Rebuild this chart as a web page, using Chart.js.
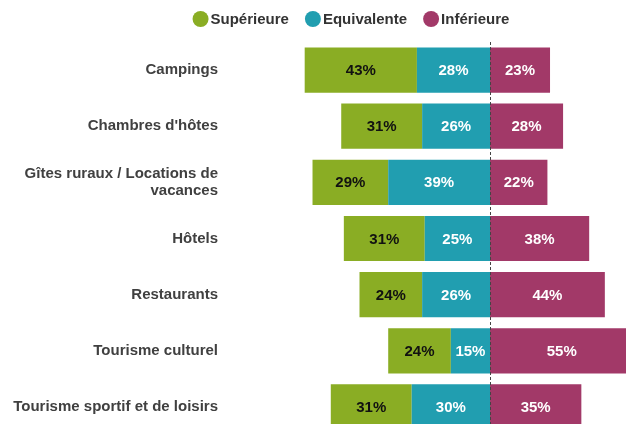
<!DOCTYPE html>
<html>
<head>
<meta charset="utf-8">
<script src="https://cdn.jsdelivr.net/npm/chart.js@4/dist/chart.umd.min.js"></script>
<style>
  html, body { margin: 0; padding: 0; background: #fff; }
  #wrap { width: 626px; height: 424px; overflow: hidden; position: relative; }
  canvas { display: block; }
</style>
</head>
<body>
<div id="wrap"><canvas id="c" width="751" height="435"></canvas></div>
<script>
const categories = [
  "Campings",
  "Chambres d'hôtes",
  ["Gîtes ruraux / Locations de", "vacances"],
  "Hôtels",
  "Restaurants",
  "Tourisme culturel",
  "Tourisme sportif et de loisirs"
];
const superieure  = [43, 31, 29, 31, 24, 24, 31];
const equivalente = [28, 26, 39, 25, 26, 15, 30];
const inferieure  = [23, 28, 22, 38, 44, 55, 35];

const seriesNames = ["Supérieure", "Equivalente", "Inférieure"];
const seriesColors = ["#8aad24", "#219eb0", "#a23968"];
const labelColors = ["#111111", "#ffffff", "#ffffff"];

const neg = a => a.map(v => -v);

const valueLabels = {
  id: 'valueLabels',
  afterDatasetsDraw(chart) {
    const ctx = chart.ctx;
    const xs = chart.scales.x;
    const area = chart.chartArea;
    const x0 = Math.round(xs.getPixelForValue(0)) + 0.5;
    ctx.save();
    ctx.strokeStyle = '#444';
    ctx.lineWidth = 1;
    ctx.setLineDash([3, 2]);
    ctx.beginPath();
    ctx.moveTo(x0, area.top);
    ctx.lineTo(x0, area.bottom);
    ctx.stroke();
    ctx.restore();

    ctx.save();
    ctx.font = "bold 15px 'Liberation Sans', Arial, sans-serif";
    ctx.textAlign = 'center';
    ctx.textBaseline = 'middle';
    chart.data.datasets.forEach((ds, i) => {
      const meta = chart.getDatasetMeta(i);
      meta.data.forEach((el, j) => {
        const v = Math.abs(ds.data[j]);
        const p = el.getProps(['x', 'y', 'base'], true);
        ctx.fillStyle = ds.valueColor;
        ctx.fillText(v + '%', (p.x + p.base) / 2, p.y + 1);
      });
    });
    ctx.restore();
  }
};

const customLegend = {
  id: 'customLegend',
  afterDraw(chart) {
    const ctx = chart.ctx;
    ctx.save();
    ctx.font = "bold 15px 'Liberation Sans', Arial, sans-serif";
    ctx.textBaseline = 'middle';
    ctx.textAlign = 'left';
    const r = 8, gapAfterDot = 2, gapItems = 16, cy = 19;
    const widths = seriesNames.map(n => ctx.measureText(n).width);
    let total = 0;
    widths.forEach((w, i) => { total += 2 * r + gapAfterDot + w + (i < widths.length - 1 ? gapItems : 0); });
    let x = 351 - total / 2;
    seriesNames.forEach((n, i) => {
      ctx.fillStyle = seriesColors[i];
      ctx.beginPath();
      ctx.arc(x + r, cy, r, 0, Math.PI * 2);
      ctx.fill();
      ctx.fillStyle = '#333333';
      ctx.fillText(n, x + 2 * r + gapAfterDot, cy + 1);
      x += 2 * r + gapAfterDot + widths[i] + gapItems;
    });
    ctx.restore();
  }
};

new Chart(document.getElementById('c'), {
  type: 'bar',
  data: {
    labels: categories,
    datasets: [
      { label: seriesNames[1], data: neg(equivalente), backgroundColor: seriesColors[1], valueColor: labelColors[1] },
      { label: seriesNames[0], data: neg(superieure), backgroundColor: seriesColors[0], valueColor: labelColors[0] },
      { label: seriesNames[2], data: inferieure, backgroundColor: seriesColors[2], valueColor: labelColors[2] }
    ]
  },
  options: {
    indexAxis: 'y',
    responsive: false,
    devicePixelRatio: 1,
    animation: false,
    layout: { padding: { top: 42, left: 0, right: 0, bottom: 0 } },
    datasets: { bar: { categoryPercentage: 1, barPercentage: 0.805, borderWidth: 0 } },
    plugins: { legend: { display: false }, tooltip: { enabled: false } },
    scales: {
      x: { stacked: true, min: -100, max: 100, display: false },
      y: {
        stacked: true,
        grid: { display: false, drawTicks: false },
        border: { display: false },
        ticks: {
          padding: 11,
          color: '#404040',
          font: { family: "'Liberation Sans', Arial, sans-serif", size: 15, weight: 'bold', lineHeight: 1.16 }
        },
        afterFit(s) { s.width = 229; s.paddingTop = 0; s.paddingBottom = 0; }
      }
    }
  },
  plugins: [valueLabels, customLegend]
});
</script>
</body>
</html>
